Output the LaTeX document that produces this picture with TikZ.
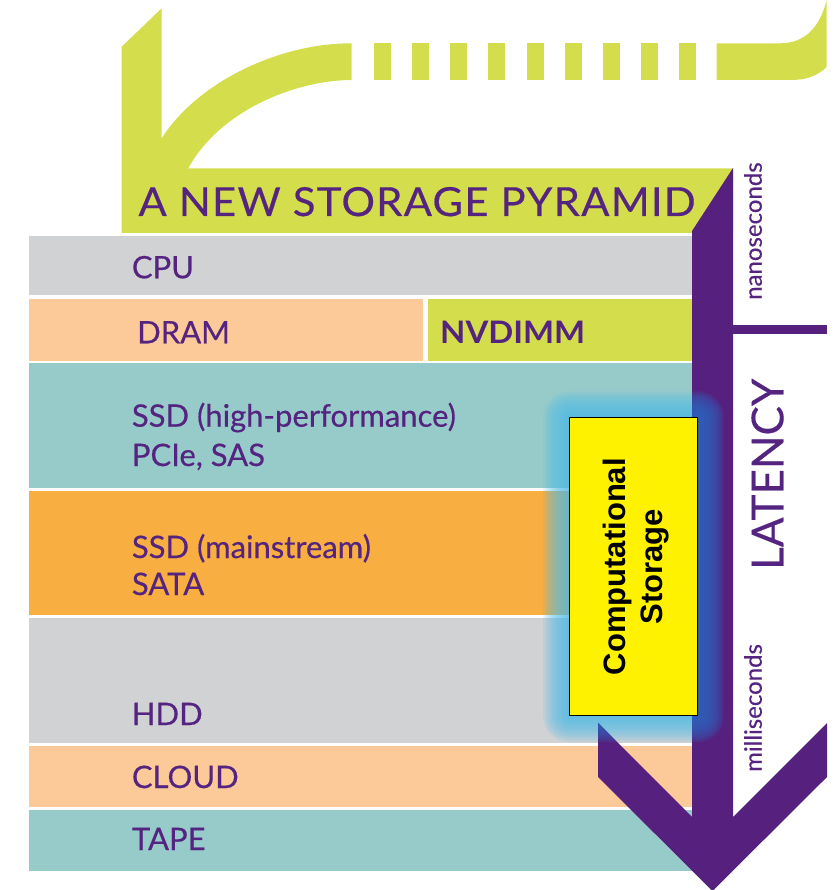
\documentclass[tikz,border=0pt]{standalone}
\usepackage{fontspec}
\setmainfont{Lato}
\newfontfamily\arialfont{Liberation Sans}
\definecolor{pgreen}{RGB}{212,222,77}
\definecolor{ppurple}{RGB}{86,33,126}
\definecolor{tpurple}{RGB}{84,36,128}
\definecolor{pgray}{RGB}{209,210,212}
\definecolor{ppeach}{RGB}{252,202,152}
\definecolor{pteal}{RGB}{151,203,202}
\definecolor{porange}{RGB}{248,174,64}
\definecolor{glowlight}{RGB}{80,188,232}
\definecolor{glowdark}{RGB}{45,98,188}
\tikzset{
  lbl/.style={anchor=base west, inner sep=0pt, text=tpurple,
    font=\fontsize{31}{36}\selectfont\addfontfeature{FakeBold=0.4}},
  sidelbl/.style={anchor=base west, inner sep=0pt, rotate=90, text=tpurple,
    font=\fontsize{24}{28}\selectfont\addfontfeature{FakeBold=0.3}},
  arrowshape/.style={insert path={(692,231) -- (733,168) -- (733,817) -- (827,723) -- (827,777)
      -- (712.5,891) -- (598,777) -- (598,723) -- (692,817) -- cycle}},
}
\begin{document}
\begin{tikzpicture}[x=1pt,y=-1pt]
\useasboundingbox (0,0) rectangle (836,890);

% green banner: bent arrow with the title band
\fill[pgreen] (121.7,46.7) -- (161.7,8.3) -- (161.7,138.3)
  .. controls (196.7,83.3) and (276.7,43.3) .. (351.7,43.3) -- (351.7,80)
  .. controls (296.7,80) and (220,110) .. (188.3,168.3)
  -- (733,168.3) -- (733,233) -- (121.7,233) -- cycle;
% dashed part of the arrow
\foreach \i in {0,...,8}
  \fill[pgreen] (373.7+38.2*\i,43.3) rectangle (390.7+38.2*\i,80);
\fill[pgreen] (716.7,43.3) -- (780,43.3) .. controls (806,43.3) and (820,26) .. (826.7,0)
  -- (826.7,67) .. controls (816,77) and (805,80) .. (790,80) -- (716.7,80) -- cycle;

\node[anchor=base west, inner sep=0pt, text=tpurple,
  font=\fontsize{40}{44}\selectfont\addfontfeature{FakeBold=0.4}]
  (title) at (138.3,216) {\resizebox{557pt}{\height}{\addfontfeature{LetterSpace=3}A NEW STORAGE PYRAMID}};

% storage tiers
\fill[pgray]   (29,236)    rectangle (692,295);
\fill[ppeach]  (29,299)    rectangle (423.3,360.5);
\fill[pgreen]  (427.7,299) rectangle (692,360.5);
\fill[pteal]   (29,363)    rectangle (692,487.5);
\fill[porange] (29,490.5)  rectangle (692,615);
\fill[pgray]   (29,618)    rectangle (692,742.5);
\fill[ppeach]  (29,746)    rectangle (692,806.5);
\fill[pteal]   (29,810)    rectangle (692,870.5);

\node[lbl] (cpu)   at (131.7,278.3) {CPU};
\node[lbl] (dram)  at (137,343.3)   {DRAM};
\node[lbl, font=\fontsize{31}{36}\selectfont\bfseries] (nvdimm) at (440,343.3) {\resizebox{145pt}{\height}{NVDIMM}};
\node[lbl] (ssdhp) at (131.7,426.7) {SSD (high-performance)};
\node[lbl] (pcie)  at (131.7,466)   {PCIe, SAS};
\node[lbl] (ssdms) at (131.7,558)   {SSD (mainstream)};
\node[lbl] (sata)  at (131.7,595)   {SATA};
\node[lbl] (hdd)   at (131.7,725)   {HDD};
\node[lbl] (cloud) at (131.7,788)   {CLOUD};
\node[lbl] (tape)  at (131.7,850)   {TAPE};

% soft glow around the computational storage box
\foreach \i [evaluate=\i as \d using 2.2*\i] in {1,...,12}
  \fill[glowlight, opacity=0.13, rounded corners=\d pt]
    (569.3-\d,417.7-\d) rectangle (697.3+\d,715.7+\d);

% latency arrow
\fill[ppurple, arrowshape];
\begin{scope}
  \clip[arrowshape];
  \foreach \i [evaluate=\i as \d using 2.2*\i] in {1,...,12}
    \fill[glowdark, opacity=0.2, rounded corners=\d pt]
      (569.3-\d,417.7-\d) rectangle (697.3+\d,715.7+\d);
\end{scope}
\fill[ppurple] (733,325) rectangle (826.7,334);

\node[sidelbl] (nano)  at (761.7,300) {nanoseconds};
\node[sidelbl] (milli) at (761.7,772) {milliseconds};
\node[anchor=base west, inner sep=0pt, rotate=90, text=tpurple,
  font=\fontsize{44}{50}\selectfont\addfontfeature{FakeBold=0.3}]
  (latency) at (783.3,570) {LATENCY};

% computational storage box
\node[draw=black, line width=1.3pt, fill=yellow, minimum width=128pt, minimum height=298pt,
  inner sep=0pt] (cs) at (633.3,566.7) {};
\node[anchor=base, inner sep=0pt, rotate=90, font=\arialfont\bfseries\fontsize{31}{36}\selectfont]
  (cs1) at (625,566.7) {Computational};
\node[anchor=base, inner sep=0pt, rotate=90, font=\arialfont\bfseries\fontsize{31}{36}\selectfont]
  (cs2) at (662,566.7) {Storage};
\end{tikzpicture}
\end{document}
